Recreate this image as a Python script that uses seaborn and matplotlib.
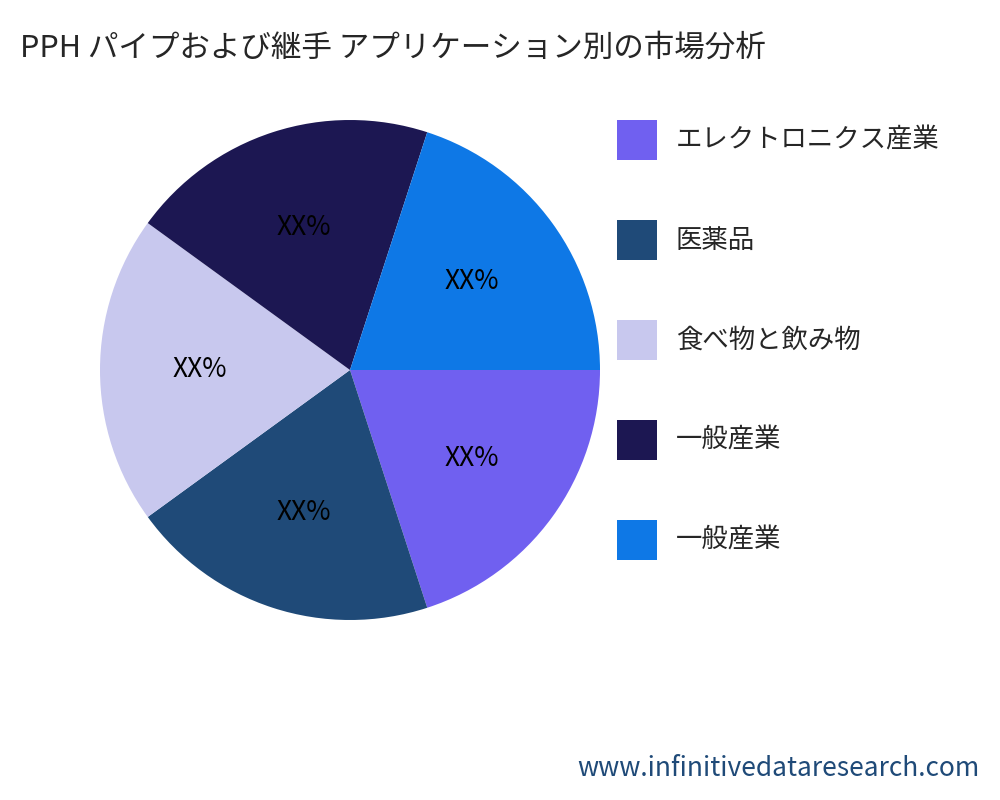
import matplotlib
matplotlib.use("Agg")
import matplotlib.pyplot as plt
import seaborn as sns
from matplotlib.patches import Rectangle

sns.set_style("white")
plt.rcParams['font.family'] = ['Noto Sans CJK JP', 'DejaVu Sans']

title = "PPH パイプおよび継手 アプリケーション別の市場分析"
categories = ["エレクトロニクス産業", "医薬品", "食べ物と飲み物", "一般産業", "一般産業"]
values = [20, 20, 20, 20, 20]
labels = ["XX%"] * 5
colors = sns.color_palette(["#7060F0", "#1F4A78", "#C8C8EE", "#1C1752", "#0E78E6"])

fig = plt.figure(figsize=(10, 8), dpi=100)
ax = fig.add_axes([0.1, 0.225, 0.5, 0.625])
wedges, texts = ax.pie(values, colors=colors, startangle=0, counterclock=False,
                       labels=labels, labeldistance=0.6,
                       wedgeprops=dict(linewidth=0),
                       textprops=dict(fontsize=19, color="black", ha="center", va="center"))
ax.set_xlim(-1, 1)
ax.set_ylim(-1, 1)
ax.set_aspect("equal")

fig.text(0.02, 0.94, title, fontsize=22, ha="left", va="center")

for i, (cat, col) in enumerate(zip(categories, colors)):
    yc = 1 - (140 + 100 * i) / 800
    fig.patches.append(Rectangle((0.617, yc - 0.025), 0.04, 0.05, transform=fig.transFigure,
                                 facecolor=col, edgecolor="none"))
    fig.text(0.676, yc, cat, fontsize=19, ha="left", va="center")

fig.text(0.98, 0.04, "www.infinitivedataresearch.com", fontsize=19, color="#1F4A78",
         ha="right", va="center")

fig.savefig("out.png", dpi=100)
